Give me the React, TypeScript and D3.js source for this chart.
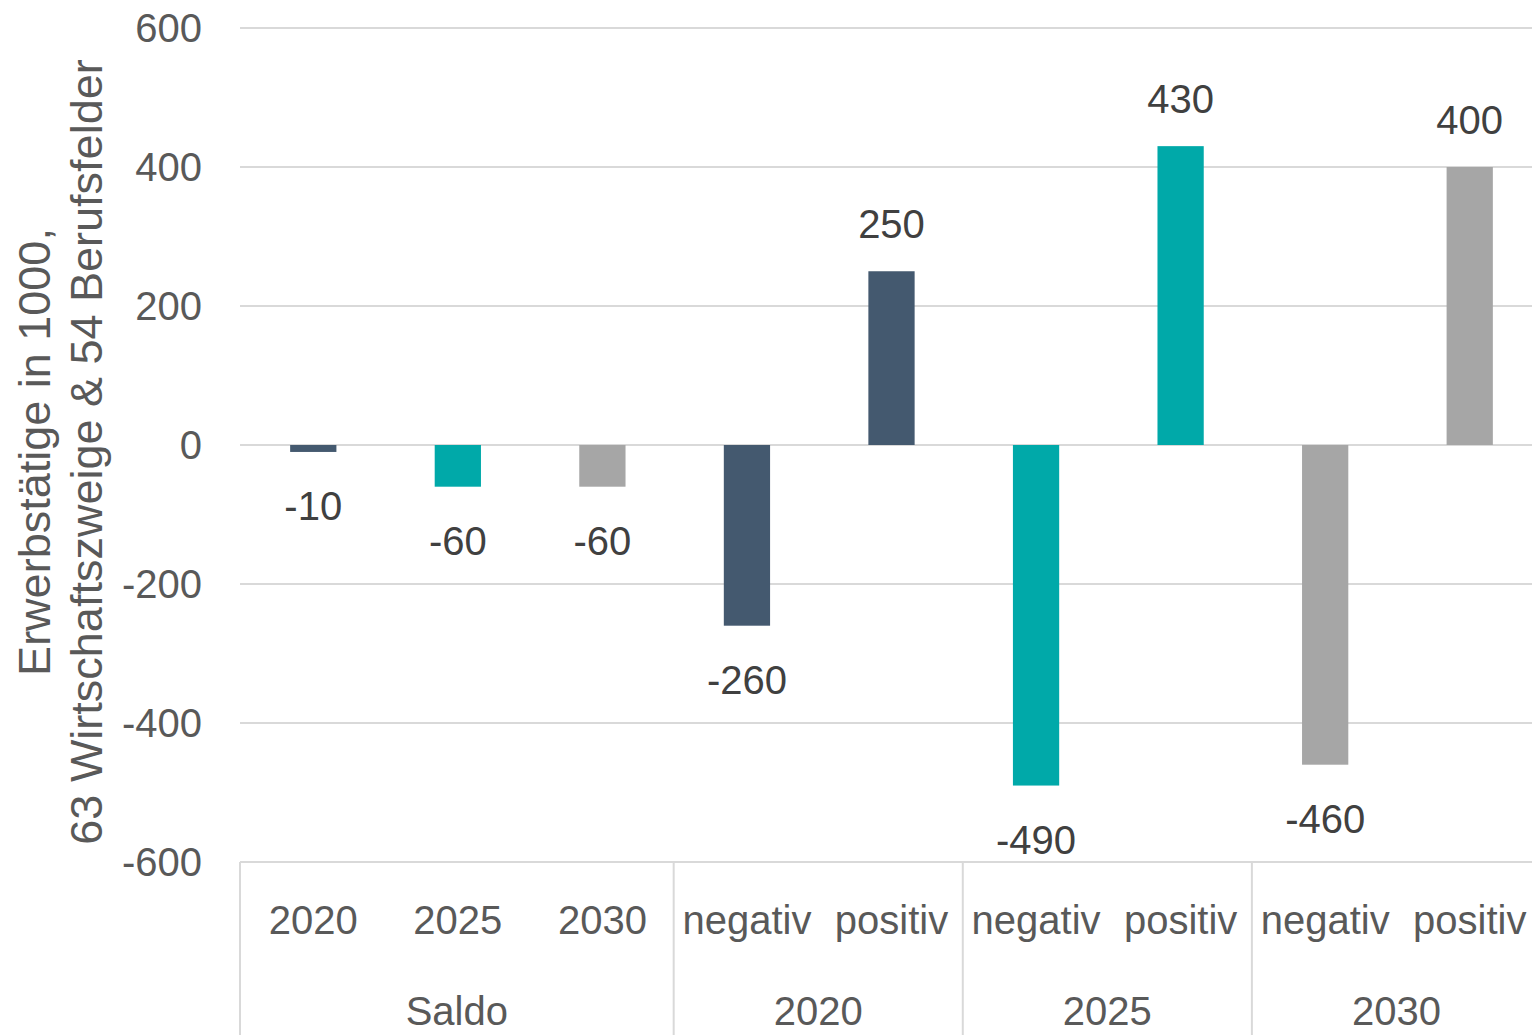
import React from "react";
import * as d3 from "d3";

const categories = ["2020", "2025", "2030", "negativ", "positiv", "negativ", "positiv", "negativ", "positiv"];
const groups = [
  { label: "Saldo", start: 0, end: 3 },
  { label: "2020", start: 3, end: 5 },
  { label: "2025", start: 5, end: 7 },
  { label: "2030", start: 7, end: 9 },
];
const values = [-10, -60, -60, -260, 250, -490, 430, -460, 400];
const barColors = ["#44596F", "#00A9A9", "#A6A6A6", "#44596F", "#44596F", "#00A9A9", "#00A9A9", "#A6A6A6", "#A6A6A6"];
const yTicks = [600, 400, 200, 0, -200, -400, -600];

const W = 1532;
const H = 1035;
const FONT = "'Liberation Sans Narrow', 'Liberation Sans', Arial, sans-serif";

export default function App() {
  const y = d3.scaleLinear().domain([-600, 600]).range([862, 28]);
  const x = d3
    .scaleBand<number>()
    .domain(d3.range(categories.length))
    .range([241, 1542])
    .paddingInner(0.68)
    .paddingOuter(0.34);
  const step = x.step();
  const x0 = 240;
  const edge = (i: number) => x0 + i * step;

  return (
    <svg width={W} height={H} style={{ position: "absolute", left: 0, top: 0, background: "#fff" }}>
      {yTicks.map((t) => (
        <g key={t}>
          <line x1={240} x2={W} y1={y(t)} y2={y(t)} stroke="#D9D9D9" strokeWidth={2} />
          <text x={202} y={y(t)} dy="0.35em" textAnchor="end" fontFamily={FONT} fontSize={40} fill="#595959">
            {t}
          </text>
        </g>
      ))}
      {values.map((v, i) => (
        <rect
          key={i}
          x={x(i)}
          y={y(Math.max(0, v))}
          width={x.bandwidth()}
          height={Math.abs(y(v) - y(0))}
          fill={barColors[i]}
        />
      ))}
      {values.map((v, i) => (
        <text
          key={"l" + i}
          x={(x(i) as number) + x.bandwidth() / 2}
          y={v >= 0 ? y(v) - 47 : y(v) + 54}
          dy="0.35em"
          textAnchor="middle"
          fontFamily={FONT}
          fontSize={40}
          fill="#404040"
        >
          {v}
        </text>
      ))}
      {groups.map((g) => (
        <line key={"s" + g.start} x1={edge(g.start)} x2={edge(g.start)} y1={862} y2={H} stroke="#D9D9D9" strokeWidth={2} />
      ))}
      {categories.map((c, i) => (
        <text
          key={"c" + i}
          x={(x(i) as number) + x.bandwidth() / 2}
          y={920}
          dy="0.35em"
          textAnchor="middle"
          fontFamily={FONT}
          fontSize={40}
          fill="#595959"
        >
          {c}
        </text>
      ))}
      {groups.map((g) => (
        <text
          key={"g" + g.start}
          x={(edge(g.start) + edge(g.end)) / 2}
          y={1011}
          dy="0.35em"
          textAnchor="middle"
          fontFamily={FONT}
          fontSize={40}
          fill="#595959"
        >
          {g.label}
        </text>
      ))}
      <g transform="translate(62,452) rotate(-90)">
        <text textAnchor="middle" fontFamily={FONT} fontSize={45} fill="#595959">
          <tspan x={0} y={-12}>Erwerbstätige in 1000,</tspan>
          <tspan x={0} y={40}>63 Wirtschaftszweige &amp; 54 Berufsfelder</tspan>
        </text>
      </g>
    </svg>
  );
}
